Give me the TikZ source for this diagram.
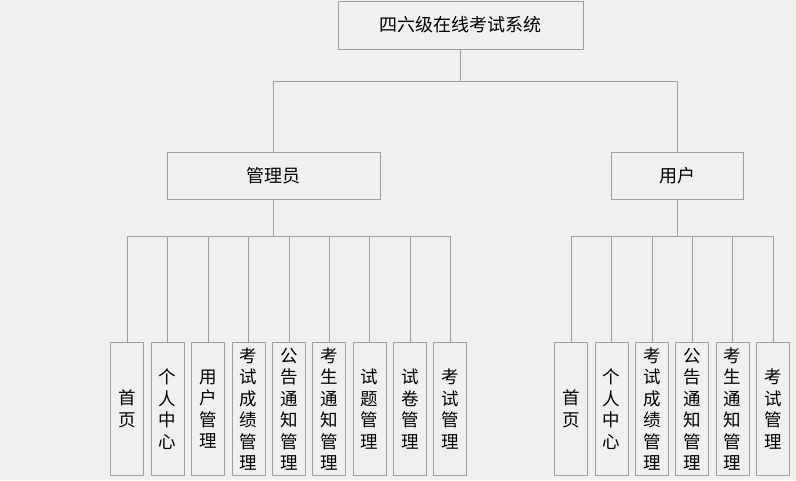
\documentclass[tikz,border=0pt]{standalone}
\usepackage{fontspec}
\setmainfont{Noto Sans CJK SC}
\usepackage{xcolor}
\usepackage{tikz}
\usetikzlibrary{positioning,calc}

\definecolor{bggray}{HTML}{F0F0F0}
\definecolor{linegray}{HTML}{A0A0A0}

\begin{document}
\begin{tikzpicture}[x=1pt,y=-1pt,
    box/.style={rectangle,draw=linegray,line width=1pt,fill=bggray,inner sep=0pt,font=\fontsize{18}{21}\selectfont},
    leaf/.style={box,minimum width=33pt,minimum height=133pt,align=center,font=\fontsize{17.5}{21.5}\selectfont},
    line/.style={draw=linegray,line width=1pt}]
    % 背景
    \fill[bggray] (0,0) rectangle (796,480);
    \useasboundingbox (0,0) rectangle (796,480);

    % 顶层
    \node[box,minimum width=245pt,minimum height=48pt] (sys) at (460.5,25) {四六级在线考试系统};

    % 角色
    \node[box,minimum width=213pt,minimum height=47pt] (admin) at (273.5,175.5) {管理员};
    \node[box,minimum width=132pt,minimum height=47pt] (user) at (677,175.5) {用户};

    % 管理员功能
    \foreach \i/\x/\t in {1/127/首\\页, 2/167.5/个\\人\\中\\心, 3/208/用\\户\\管\\理,
        4/248.5/考\\试\\成\\绩\\管\\理, 5/289/公\\告\\通\\知\\管\\理, 6/329/考\\生\\通\\知\\管\\理,
        7/369.5/试\\题\\管\\理, 8/410/试\\卷\\管\\理, 9/450/考\\试\\管\\理}
        \node[leaf] (a\i) at (\x,409) {\t};

    % 用户功能
    \foreach \i/\x/\t in {1/571/首\\页, 2/611.5/个\\人\\中\\心, 3/652/考\\试\\成\\绩\\管\\理,
        4/692/公\\告\\通\\知\\管\\理, 5/732.5/考\\生\\通\\知\\管\\理, 6/773/考\\试\\管\\理}
        \node[leaf] (u\i) at (\x,409) {\t};

    % 连线
    \draw[line] (sys.south) -- ++(0,32) coordinate (bus);
    \draw[line] (admin.north) |- (bus) -| (user.north);
    \draw[line] (admin.south) -- ++(0,37) coordinate (abus);
    \foreach \i in {1,...,9}
        \draw[line] (a\i.north) |- (abus);
    \draw[line] (user.south) -- ++(0,37) coordinate (ubus);
    \foreach \i in {1,...,6}
        \draw[line] (u\i.north) |- (ubus);
\end{tikzpicture}
\end{document}
